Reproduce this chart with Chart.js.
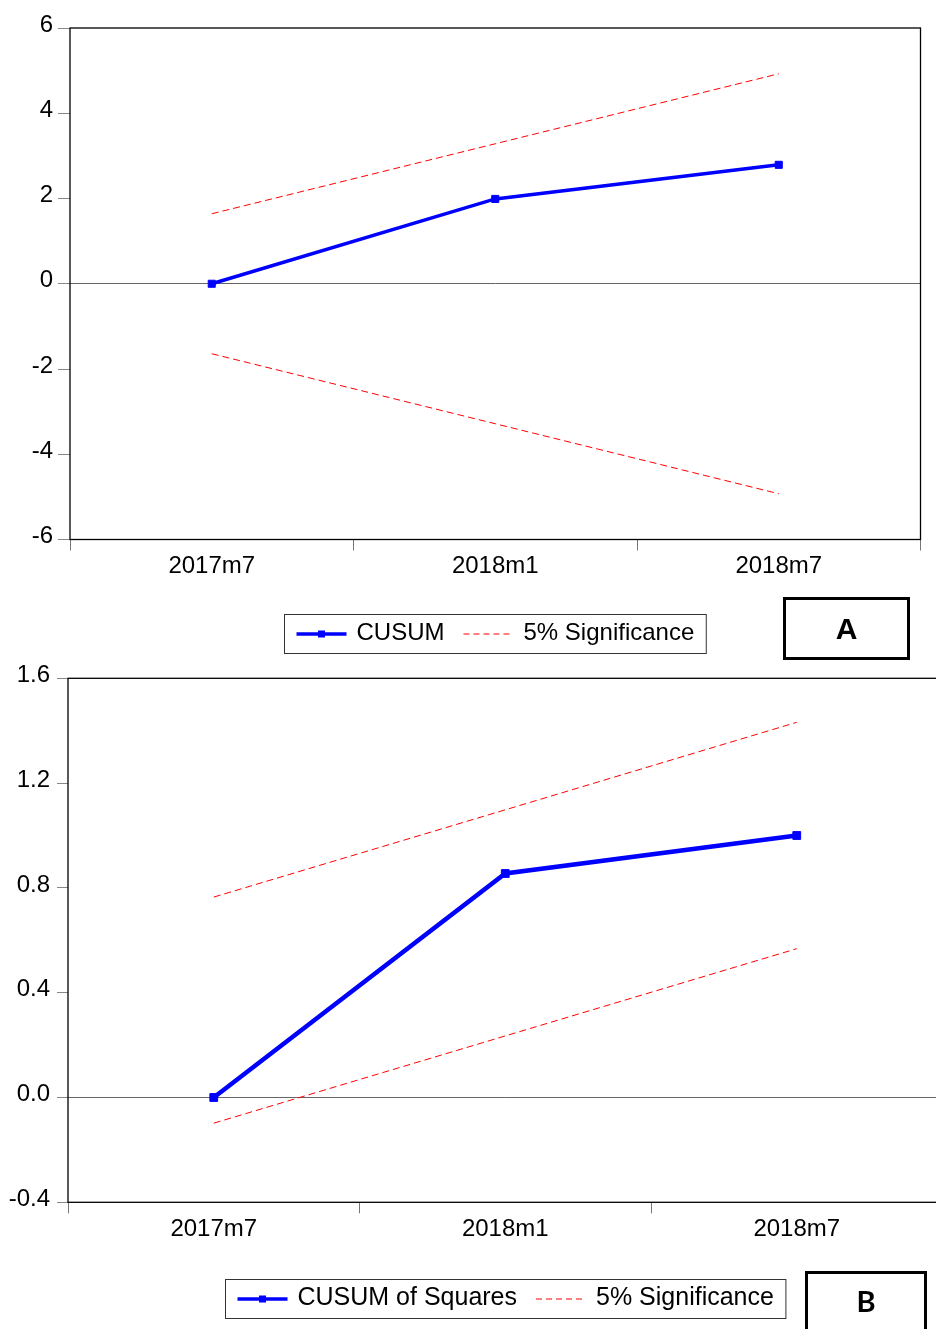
<!DOCTYPE html>
<html>
<head>
<meta charset="utf-8">
<script src="https://cdn.jsdelivr.net/npm/chart.js@4/dist/chart.umd.min.js"></script>
<style>
body { margin:0; background:#fff; width:936px; height:1329px; overflow:hidden; position:relative; }
.holder { position:absolute; left:0; width:936px; overflow:hidden; }
.tag { position:absolute; box-sizing:border-box; border:3px solid #000; color:#000;
       font-weight:bold; display:flex; align-items:center; justify-content:center; }
</style>
</head>
<body>
<div class="holder" style="top:0;height:665px"><canvas id="chartA" width="936" height="665"></canvas></div>
<div class="holder" style="top:645px;height:684px"><canvas id="chartB" width="960" height="684"></canvas></div>
<div class="tag" style="left:783px;top:597px;width:127px;height:63px;font-family:'Liberation Sans',Arial,sans-serif;font-size:30px">A</div>
<div class="tag" style="left:805px;top:1271px;width:122px;height:80px;font-family:Lato,sans-serif;font-size:29px;align-items:flex-start;padding-top:9px">B</div>
<script>
// periods of the recursive residuals
const periods = ['2017m7', '2018m1', '2018m7'];

// CUSUM test
const cusum = [0, 1.99, 2.79];
const cusumUpper = [1.642, 3.284, 4.926];
const cusumLower = [-1.642, -3.284, -4.926];
const cusumTicks = [-6, 6, 2];

// CUSUM of squares test
const cusumSq = [0, 0.855, 1.0];
const cusumSqUpper = [0.765, 1.098, 1.432];
const cusumSqLower = [-0.098, 0.235, 0.568];
const cusumSqTicks = [-0.4, 1.6, 0.4];

const FONT = "'Liberation Sans', Arial, sans-serif";

// frame round the plot area
const framePlugin = {
    id: 'frame',
    afterDatasetsDraw(chart) {
        const a = chart.chartArea, ctx = chart.ctx;
        ctx.save();
        ctx.strokeStyle = '#000';
        ctx.lineWidth = 1.3;
        ctx.strokeRect(a.left, a.top, a.right - a.left, a.bottom - a.top);
        ctx.restore();
    }
};

// boxed legend centred under the plot area
const boxLegend = {
    id: 'boxLegend',
    afterDraw(chart, args, opts) {
        const ctx = chart.ctx, a = chart.chartArea;
        const items = chart.data.datasets.filter(d => !d.noLegend);
        const sample = 50, gap = 10, itemGap = 19, pad = 12;
        ctx.save();
        ctx.font = opts.fontSize + 'px ' + FONT;
        const widths = items.map(d => ctx.measureText(d.label).width);
        let total = pad * 2 + (items.length - 1) * itemGap;
        widths.forEach(w => total += sample + gap + w);
        const x0 = Math.round((a.left + a.right) / 2 - total / 2) + 0.5;
        const y0 = Math.round(a.bottom + opts.top) + 0.5;
        const h = opts.height;
        ctx.strokeStyle = '#333';
        ctx.lineWidth = 1;
        ctx.strokeRect(x0, y0, total, h);
        const ym = y0 + h / 2;
        let x = x0 + pad;
        items.forEach((d, i) => {
            ctx.beginPath();
            ctx.strokeStyle = d.borderColor;
            ctx.lineWidth = d.legendLine || d.borderWidth;
            ctx.setLineDash(d.borderDash ? [6, 4] : []);
            ctx.moveTo(x, ym);
            ctx.lineTo(x + sample, ym);
            ctx.stroke();
            ctx.setLineDash([]);
            if (d.pointRadius > 0) {
                ctx.fillStyle = d.borderColor;
                ctx.fillRect(x + sample / 2 - 3.5, ym - 3.5, 7, 7);
            }
            x += sample + gap;
            ctx.fillStyle = '#000';
            ctx.textBaseline = 'middle';
            ctx.fillText(d.label, x, ym - 1);
            x += widths[i] + itemGap;
        });
        ctx.restore();
    }
};

function makeChart(id, name, values, upper, lower, yTicks, look) {
    const ctx = document.getElementById(id).getContext('2d');
    return new Chart(ctx, {
        type: 'line',
        data: {
            labels: periods,
            datasets: [{
                label: name,
                data: values,
                borderColor: '#0000ff',
                backgroundColor: '#0000ff',
                borderWidth: look.lineWidth,
                legendLine: 3.5,
                pointStyle: 'rect',
                pointRadius: look.pointRadius,
                pointBorderWidth: 1,
                tension: 0,
                order: 0
            },
            {
                label: '5% Significance',
                data: upper,
                borderColor: '#ff0000',
                borderWidth: 1,
                borderDash: [7, 4],
                pointRadius: 0,
                order: 1
            },
            {
                label: '5% Significance',
                data: lower,
                borderColor: '#ff0000',
                borderWidth: 1,
                borderDash: [7, 4],
                pointRadius: 0,
                noLegend: true,
                order: 1
            }]
        },
        options: {
            responsive: false,
            animation: false,
            devicePixelRatio: 1,
            layout: { padding: { top: look.top, right: look.right, left: 0, bottom: 0 } },
            plugins: {
                legend: { display: false },
                tooltip: { enabled: false },
                boxLegend: { fontSize: look.legendSize, top: look.legendTop, height: 39 }
            },
            scales: {
                x: {
                    type: 'category',
                    offset: true,
                    border: { display: false },
                    grid: { offset: true, drawOnChartArea: false, tickLength: 11, tickColor: '#777', lineWidth: 1 },
                    ticks: { color: '#000', font: { family: FONT, size: 24 }, padding: look.xPad, maxRotation: 0, autoSkip: false },
                    afterFit: s => { s.height = look.xHeight; }
                },
                y: {
                    min: yTicks[0],
                    max: yTicks[1],
                    border: { display: false },
                    grid: {
                        color: c => (c.tick && Math.abs(c.tick.value) < 1e-9) ? '#666' : 'rgba(0,0,0,0)',
                        tickColor: '#888',
                        tickLength: look.yTick,
                        lineWidth: 1
                    },
                    ticks: {
                        stepSize: yTicks[2],
                        color: '#000',
                        font: { family: FONT, size: 24 },
                        padding: look.yPad,
                        labelOffset: -3,
                        callback: v => look.decimals ? Number(v).toFixed(1) : String(Math.round(v))
                    },
                    afterFit: s => { s.width = look.yWidth; }
                }
            }
        },
        plugins: [framePlugin, boxLegend]
    });
}

makeChart('chartA', 'CUSUM', cusum, cusumUpper, cusumLower, cusumTicks,
    { top: 28, right: 15.5, xHeight: 125.5, yWidth: 70, yTick: 12, yPad: 5, xPad: 1,
      lineWidth: 3.5, pointRadius: 5, decimals: false, legendSize: 24, legendTop: 74.5 });

makeChart('chartB', 'CUSUM of Squares', cusumSq, cusumSqUpper, cusumSqLower, cusumSqTicks,
    { top: 33.3, right: 17.5, xHeight: 126.7, yWidth: 68, yTick: 11, yPad: 7, xPad: 2,
      lineWidth: 4.5, pointRadius: 5.5, decimals: true, legendSize: 25, legendTop: 76.5 });
</script>
</body>
</html>
